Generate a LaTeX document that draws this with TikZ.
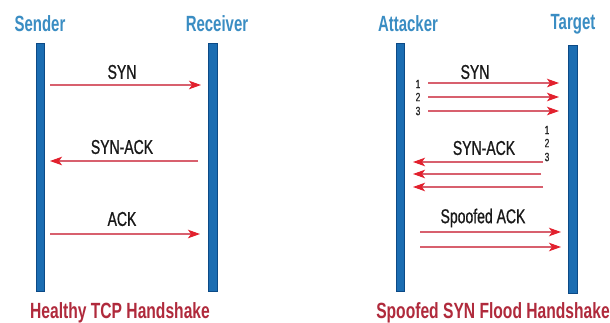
\documentclass[tikz,border=0pt]{standalone}
\usepackage{fontspec}
\setmainfont{Liberation Sans}[FakeStretch=0.78]
\newfontfamily\hdrfont{Liberation Sans}[FakeStretch=0.68]
\newfontfamily\lblfont{Liberation Sans}[FakeStretch=0.7, FakeBold=0.8]
\newfontfamily\ttlfont{Liberation Sans}[FakeStretch=0.71]
\usetikzlibrary{arrows.meta}
\definecolor{hdrblue}{HTML}{3A8DC3}
\definecolor{barblue}{HTML}{1B6DB2}
\definecolor{baredge}{HTML}{0C4A86}
\definecolor{headred}{HTML}{E2212E}
\definecolor{shaftred}{HTML}{D8606E}
\definecolor{titlered}{HTML}{B02A3C}
\tikzset{
  bar/.style={draw=baredge, line width=0.8pt, fill=barblue, minimum width=8.5pt, minimum height=248pt, inner sep=0pt},
  hdr/.style={text=hdrblue, font=\hdrfont\fontsize{22}{23}\selectfont\bfseries, inner sep=0pt},
  lbl/.style={text=black!90, font=\lblfont\fontsize{20}{21}\selectfont, inner sep=0pt},
  num/.style={text=black!85, font=\lblfont\fontsize{12}{13}\selectfont, inner sep=0pt},
  ttl/.style={text=titlered, font=\ttlfont\fontsize{22}{23}\selectfont\bfseries, inner sep=0pt},
  msg/.style={draw=shaftred, line width=1.1pt, -{Stealth[length=12pt, width=8.5pt, inset=3pt, color=headred]}}
}
\begin{document}
\begin{tikzpicture}[x=1pt,y=-1pt]
\useasboundingbox[fill=white] (0,0) rectangle (610,322);
% left panel
\node[hdr] (sender) at (40,24) {Sender};
\node[hdr] (receiver) at (217,24) {Receiver};
\node[bar] (sbar) at (40.5,167) {};
\node[bar] (rbar) at (213,167) {};
\node[lbl] (lsyn) at (122,72) {SYN};
\node[lbl] (lsynack) at (122,147) {SYN-ACK};
\node[lbl] (lack) at (122,219) {ACK};
\node[ttl] (ltitle) at (120,313) {Healthy TCP Handshake};
\coordinate (a1) at (50,85);  \coordinate (b1) at (201,85);
\coordinate (a2) at (198,161); \coordinate (b2) at (50,161);
\coordinate (a3) at (50,234); \coordinate (b3) at (200,234);
\draw[msg] (a1) -- (b1);
\draw[msg] (a2) -- (b2);
\draw[msg] (a3) -- (b3);
% right panel
\node[hdr] (attacker) at (408,24) {Attacker};
\node[hdr] (target) at (573,24) {Target};
\node[bar] (abar) at (400.5,167) {};
\node[bar] (tbar) at (573,169) {};
\node[lbl] (rsyn) at (475,72) {SYN};
\node[lbl] (rsynack) at (484,148) {SYN-ACK};
\node[lbl] (rack) at (483,218) {Spoofed ACK};
\node[ttl] (rtitle) at (493,313) {Spoofed SYN Flood Handshake};
\node[num] (n1) at (418,84) {1};
\node[num] (n2) at (418,97) {2};
\node[num] (n3) at (418,111) {3};
\node[num] (m1) at (547,130) {1};
\node[num] (m2) at (547,143) {2};
\node[num] (m3) at (547,157) {3};
\coordinate (p1) at (428,83);  \coordinate (q1) at (559,83);
\coordinate (p2) at (428,97);  \coordinate (q2) at (559,97);
\coordinate (p3) at (428,111); \coordinate (q3) at (559,111);
\draw[msg] (p1) -- (q1);
\draw[msg] (p2) -- (q2);
\draw[msg] (p3) -- (q3);
\coordinate (u1) at (543,162); \coordinate (v1) at (413,162);
\coordinate (u2) at (541,174); \coordinate (v2) at (413,174);
\coordinate (u3) at (543,187); \coordinate (v3) at (413,187);
\draw[msg] (u1) -- (v1);
\draw[msg] (u2) -- (v2);
\draw[msg] (u3) -- (v3);
\coordinate (w1) at (420,232); \coordinate (z1) at (561,232);
\coordinate (w2) at (420,247); \coordinate (z2) at (561,247);
\draw[msg] (w1) -- (z1);
\draw[msg] (w2) -- (z2);
\end{tikzpicture}
\end{document}
